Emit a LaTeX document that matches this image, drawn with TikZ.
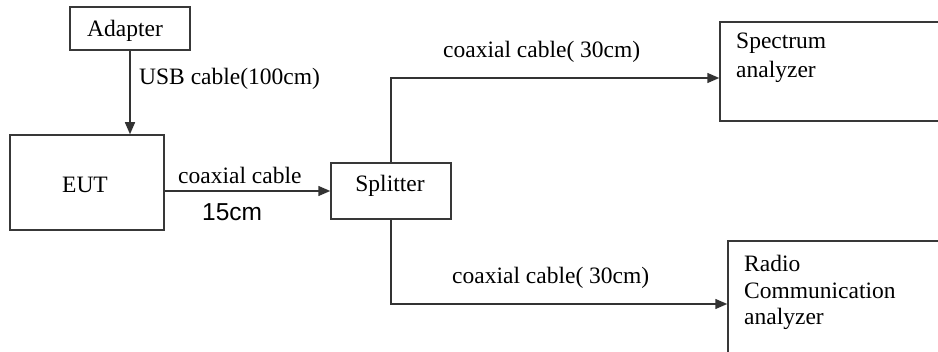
\documentclass[tikz,border=0pt]{standalone}
\usepackage{fontspec}
\setmainfont{Liberation Serif}
\newfontfamily\arialfont{Liberation Sans}
\usetikzlibrary{arrows.meta}
\begin{document}
\begin{tikzpicture}[x=1pt,y=-1pt,
  box/.style={draw=black!78,line width=1.5pt,rectangle,inner sep=0pt},
  arr/.style={draw=black!80,line width=1.5pt,-{Triangle[length=12pt,width=10pt]}},
  lbl/.style={inner sep=0pt,anchor=west,font=\fontsize{23.5}{28}\selectfont},
  txt/.style={inner sep=0pt,font=\fontsize{23.5}{28}\selectfont}]
\useasboundingbox (0,0) rectangle (938,352);
\clip (0,0) rectangle (938,352);
\fill[white] (0,0) rectangle (938,352);
% boxes
\node[box,minimum width=120pt,minimum height=43pt] (adapter) at (130,28.5) {};
\node[box,minimum width=154pt,minimum height=95pt] (eut) at (87,182.5) {};
\node[box,minimum width=120pt,minimum height=56pt] (split) at (391,191) {};
\node[box,minimum width=230pt,minimum height=99pt] (spec) at (835,71.5) {};
\node[box,minimum width=222pt,minimum height=119pt] (radio) at (839,300.5) {};
% box texts
\node[txt] at (125,31) {Adapter};
\node[txt] at (85,185) {EUT};
\node[txt] at (390,186) {Splitter};
\node[lbl] at (736,43) {Spectrum};
\node[lbl] at (736,72) {analyzer};
\node[lbl] at (744,263) {Radio};
\node[lbl] at (744,291) {Communication};
\node[lbl] at (744,319) {analyzer};
% connectors
\draw[arr] (adapter.south) -- (adapter.south |- eut.north);
\draw[arr] (eut.east |- split.west) -- (split.west);
\draw[arr] (split.north) |- ([yshift=-6.5pt]spec.west);
\draw[arr] (split.south) |- ([yshift=-3.5pt]radio.west);
% labels
\node[lbl] at (139,79) {USB cable(100cm)};
\node[lbl] at (178,175) {coaxial cable};
\node[lbl,font=\arialfont\fontsize{24.5}{28}\selectfont] at (202,212) {15cm};
\node[lbl] at (443,52) {coaxial cable( 30cm)};
\node[lbl] at (452,278) {coaxial cable( 30cm)};
\end{tikzpicture}
\end{document}
